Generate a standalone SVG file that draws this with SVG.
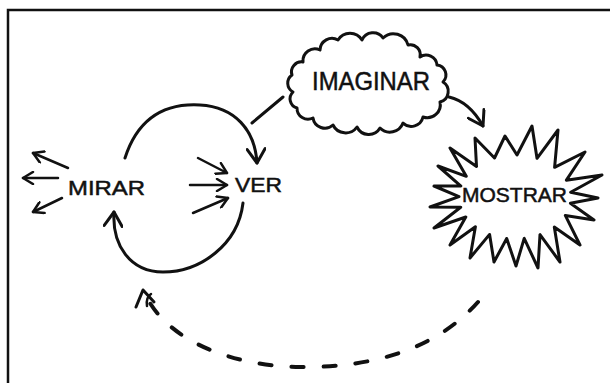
<svg xmlns="http://www.w3.org/2000/svg" width="610" height="383" viewBox="0 0 610 383">
<defs>
<style>
.lbl{font-family:"Liberation Sans","DejaVu Sans",sans-serif;fill:#111;stroke:#111;stroke-width:0.5;}
.ln{fill:none;stroke:#111;stroke-linecap:round;stroke-linejoin:round;}
.shape{fill:#fff;stroke:#111;stroke-width:3;stroke-linejoin:round;}
</style>
<marker id="sm" markerUnits="userSpaceOnUse" viewBox="0 0 14 14" markerWidth="14" markerHeight="14" refX="12" refY="7" orient="auto">
<path d="M2,1 L12,7 L2,13" fill="none" stroke="#111" stroke-width="2.5" stroke-linecap="round" stroke-linejoin="round"/>
</marker>
<marker id="bg" markerUnits="userSpaceOnUse" viewBox="0 0 20 20" markerWidth="20" markerHeight="20" refX="18" refY="10" orient="auto">
<path d="M4,1 L18,10 L4,19" fill="none" stroke="#111" stroke-width="3" stroke-linecap="round" stroke-linejoin="round"/>
</marker>
</defs>
<rect width="610" height="383" fill="#fff"/>
<path d="M8,383 L8,10 L610,10" fill="none" stroke="#111" stroke-width="2.5"/>

<g id="connectors">
<line class="ln" x1="68" y1="168" x2="33" y2="153" stroke-width="2.5" marker-end="url(#sm)"/>
<line class="ln" x1="58" y1="178" x2="23" y2="178" stroke-width="2.5" marker-end="url(#sm)"/>
<line class="ln" x1="62" y1="198" x2="33" y2="212" stroke-width="2.5" marker-end="url(#sm)"/>
<line class="ln" x1="198" y1="158" x2="227" y2="173" stroke-width="2.5" marker-end="url(#sm)"/>
<line class="ln" x1="190" y1="185" x2="227" y2="185" stroke-width="2.5" marker-end="url(#sm)"/>
<line class="ln" x1="193" y1="213" x2="228" y2="198" stroke-width="2.5" marker-end="url(#sm)"/>
<path class="ln" d="M125,158 C138,118 165,103 200,105 C235,107 255,130 257,163" stroke-width="3" marker-end="url(#bg)"/>
<path class="ln" d="M243,203 C238,245 200,272 163,272 C130,272 112,245 114,212" stroke-width="3" marker-end="url(#bg)"/>
<line class="ln" x1="283" y1="97" x2="252" y2="123" stroke-width="3"/>
<path class="ln" d="M449,97 C462,100 474,110 483,126" stroke-width="3" marker-end="url(#bg)"/>
<path class="ln" d="M478,302 C440,345 380,368 300,367 C230,366 168,340 146,296" stroke-width="4" stroke-dasharray="12 20" stroke-linecap="round"/>
<path class="ln" d="M136,307 L143,290 L154,302" stroke-width="3"/>
<path class="ln" d="M147,306 C146,300 148,296 151,294" stroke-width="2.5"/>
</g>

<g id="mirar">
<text class="lbl" x="68" y="195" font-size="21" textLength="77" lengthAdjust="spacingAndGlyphs">MIRAR</text>
</g>
<g id="ver">
<text class="lbl" x="235" y="192" font-size="21" textLength="47" lengthAdjust="spacingAndGlyphs">VER</text>
</g>
<g id="imaginar">
<path class="shape" d="M293,92 A10,10 0 0 1 292,75 A10,10 0 0 1 303,62 A12,12 0 0 1 320,50 A12,12 0 0 1 338,40 A14,14 0 0 1 362,40 A12,12 0 0 1 383,38 A15,15 0 0 1 408,45 A10,10 0 0 1 420,57 A11,11 0 0 1 437,65 A10,10 0 0 1 443,82 A11,11 0 0 1 440,102 A13,13 0 0 1 423,117 A12,12 0 0 1 403,123 A14,14 0 0 1 380,128 A13,13 0 0 1 357,127 A14,14 0 0 1 333,125 A12,12 0 0 1 313,118 A11,11 0 0 1 297,108 A9.5,9.5 0 0 1 293,92 Z"/>
<text class="lbl" x="312" y="90" font-size="25" textLength="118" lengthAdjust="spacingAndGlyphs">IMAGINAR</text>
</g>
<g id="mostrar">
<polygon class="shape" points="450,148 476.5,166.5 475,138 494.5,158 505,136 517,155 532,126 537,158.3 558,130 554.6,167.3 585,152 566.4,180.2 602,175 570.7,192.3 598,198 570.4,203.2 594,220 565.3,215.4 580,245 554.3,227 560,262 540,234.6 538,268 524.2,238.4 516,266 506.7,238.5 494,262 489.6,234.4 470,258 475.4,226.7 450,245 465.8,217 434,228 460.7,207.2 430,207 459,196.6 434,186 460.9,186.1 438,166 466.3,176.3"/>
<text class="lbl" x="462" y="202" font-size="21" textLength="105" lengthAdjust="spacingAndGlyphs">MOSTRAR</text>
</g>
</svg>
